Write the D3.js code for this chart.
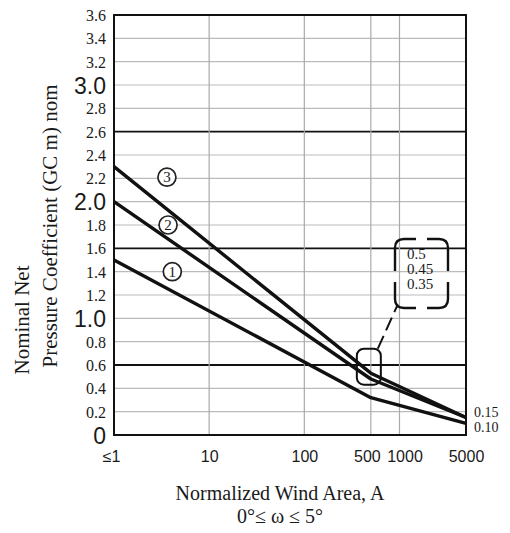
<!DOCTYPE html>
<html><head><meta charset="utf-8">
<script src="https://cdn.jsdelivr.net/npm/d3@7"></script>
<style>body{margin:0;background:#fff}</style>
</head><body>
<svg id="c" width="510" height="533"></svg>
<script>
// ---- data ----
const areas = [1, 500, 5000];
const zone1 = [1.5, 0.32, 0.10];
const zone2 = [2.0, 0.48, 0.15];
const zone3 = [2.3, 0.53, 0.15];
const zoneNames = ["1", "2", "3"];
const xTicks = [1, 10, 100, 500, 1000, 5000];
const xTickLabels = ["≤1", "10", "100", "500", "1000", "5000"];
const yTicks = [0,0.2,0.4,0.6,0.8,1.0,1.2,1.4,1.6,1.8,2.0,2.2,2.4,2.6,2.8,3.0,3.2,3.4,3.6];
const yTickLabels = ["0","0.2","0.4","0.6","0.8","1.0","1.2","1.4","1.6","1.8","2.0","2.2","2.4","2.6","2.8","3.0","3.2","3.4","3.6"];
const bigYLabels = ["0","1.0","2.0","3.0"];
const heavyY = [0.6, 1.6, 2.6];
const boxValues = ["0.5", "0.45", "0.35"];
const endValues = ["0.15", "0.10"];

const svg = d3.select("#c");
const L = 114, R = 466, T = 15, B = 435;
const x = d3.scaleLog().domain([1, 5000]).range([L, R]);
const y = d3.scaleLinear().domain([0, 3.6]).range([B, T]);
const serif = "'Liberation Serif', 'Times New Roman', serif";
const sans = "'Liberation Sans', Arial, sans-serif";
const ink = "#1a1a1a";

// grid
const isHeavy = d => heavyY.some(h => Math.abs(h - d) < 1e-6);
svg.append("g").selectAll("line").data(yTicks.filter(v => v > 0 && v < 3.6)).join("line")
  .attr("x1", L).attr("x2", R).attr("y1", d => y(d)).attr("y2", d => y(d))
  .attr("stroke", d => isHeavy(d) ? "#111" : "#bbb")
  .attr("stroke-width", d => isHeavy(d) ? 1.8 : 1.2);
svg.append("g").selectAll("line").data(xTicks.filter(v => v > 1 && v < 5000)).join("line")
  .attr("x1", d => x(d)).attr("x2", d => x(d)).attr("y1", T).attr("y2", B)
  .attr("stroke", "#aaa").attr("stroke-width", 1.2);

// frame
svg.append("rect").attr("x", L).attr("y", T).attr("width", R - L).attr("height", B - T)
  .attr("fill", "none").attr("stroke", "#111").attr("stroke-width", 2);

// y axis labels
const yAxis = d3.axisLeft(y).tickValues(yTicks).tickFormat((d, i) => yTickLabels[i]).tickSize(0).tickPadding(8);
const gy = svg.append("g").attr("transform", `translate(${L},0)`).call(yAxis);
gy.select(".domain").remove();
gy.selectAll("text")
  .attr("fill", ink)
  .style("font-family", (d, i) => bigYLabels.includes(yTickLabels[i]) ? sans : serif)
  .style("font-size", (d, i) => bigYLabels.includes(yTickLabels[i]) ? "23px" : "16px")
  .attr("dy", (d, i) => bigYLabels.includes(yTickLabels[i]) ? "0.36em" : "0.34em");

// x axis labels
const xAxis = d3.axisBottom(x).tickValues(xTicks).tickFormat((d, i) => xTickLabels[i]).tickSize(0).tickPadding(16);
const gx = svg.append("g").attr("transform", `translate(0,${B})`).call(xAxis);
gx.select(".domain").remove();
gx.selectAll("text").attr("fill", ink).style("font-family", sans).style("font-size", "16px")
  .attr("dx", (d, i) => xTickLabels[i] === "500" ? -4 : xTickLabels[i] === "1000" ? 5 : xTickLabels[i] === "≤1" ? -3 : 0);

// lines
const line = d3.line().x((d, i) => x(areas[i])).y(d => y(d));
[zone1, zone2, zone3].forEach(z => {
  svg.append("path").attr("d", line(z)).attr("fill", "none")
    .attr("stroke", "#111").attr("stroke-width", 3.4).attr("stroke-linejoin", "round");
});

// zone markers
const markerPos = [[4.1, 1.40], [3.7, 1.80], [3.6, 2.21]];
zoneNames.forEach((n, i) => {
  const cx = x(markerPos[i][0]), cy = y(markerPos[i][1]);
  svg.append("circle").attr("cx", cx).attr("cy", cy).attr("r", 9)
    .attr("fill", "#fff").attr("stroke", "#222").attr("stroke-width", 1.7);
  svg.append("text").attr("x", cx).attr("y", cy + 5).attr("text-anchor", "middle")
    .style("font-family", serif).style("font-size", "15px").attr("fill", ink).text(n);
});

// small box around 500
const sbx = x(500) - 14, sby = y(0.74);
svg.append("rect").attr("x", sbx).attr("y", sby).attr("width", 24).attr("height", 36).attr("rx", 7)
  .attr("fill", "none").attr("stroke", "#111").attr("stroke-width", 2);
// dashed connector
svg.append("line").attr("x1", x(500) + 7).attr("y1", sby).attr("x2", x(500) + 27).attr("y2", y(1.12))
  .attr("stroke", "#111").attr("stroke-width", 2).attr("stroke-dasharray", "14,6");

// big bracket box
const bx0 = 395, by0 = y(1.68), bw = 53, bh = 69, r = 9, g = 11;
const bx1 = bx0 + bw, by1 = by0 + bh;
const mxL = bx0 + bw / 2 - g / 2, mxR = bx0 + bw / 2 + g / 2;
const myT = by0 + bh / 2 - g / 2 + 3, myB = by0 + bh / 2 + g / 2 + 3;
const corners = [
  `M${bx0},${myT} V${by0 + r} Q${bx0},${by0} ${bx0 + r},${by0} H${mxL}`,
  `M${mxR},${by0} H${bx1 - r} Q${bx1},${by0} ${bx1},${by0 + r} V${myT}`,
  `M${bx1},${myB} V${by1 - r} Q${bx1},${by1} ${bx1 - r},${by1} H${mxR}`,
  `M${mxL},${by1} H${bx0 + r} Q${bx0},${by1} ${bx0},${by1 - r} V${myB}`
];
corners.forEach(p => svg.append("path").attr("d", p).attr("fill", "none").attr("stroke", "#111").attr("stroke-width", 2.4));
boxValues.forEach((v, i) => {
  svg.append("text").attr("x", bx0 + 12).attr("y", by0 + 20 + i * 15)
    .style("font-family", serif).style("font-size", "15px").attr("fill", ink).text(v);
});

// end labels
endValues.forEach((v, i) => {
  svg.append("text").attr("x", R + 8).attr("y", y(0.15) - 1 + i * 15)
    .style("font-family", serif).style("font-size", "14px").attr("fill", ink).text(v);
});

// axis titles
svg.append("text").attr("x", 280).attr("y", 500).attr("text-anchor", "middle")
  .style("font-family", serif).style("font-size", "20px").attr("fill", ink).text("Normalized Wind Area, A");
svg.append("text").attr("x", 280).attr("y", 523).attr("text-anchor", "middle")
  .style("font-family", serif).style("font-size", "20px").attr("fill", ink).text("0°≤ ω ≤ 5°");
svg.append("text").attr("transform", "translate(29,320) rotate(-90)").attr("text-anchor", "middle")
  .style("font-family", serif).style("font-size", "21px").attr("fill", ink).text("Nominal Net");
svg.append("text").attr("transform", "translate(57,226) rotate(-90)").attr("text-anchor", "middle")
  .style("font-family", serif).style("font-size", "21px").attr("fill", ink).text("Pressure Coefficient (GC m) nom");
</script>
</body></html>
